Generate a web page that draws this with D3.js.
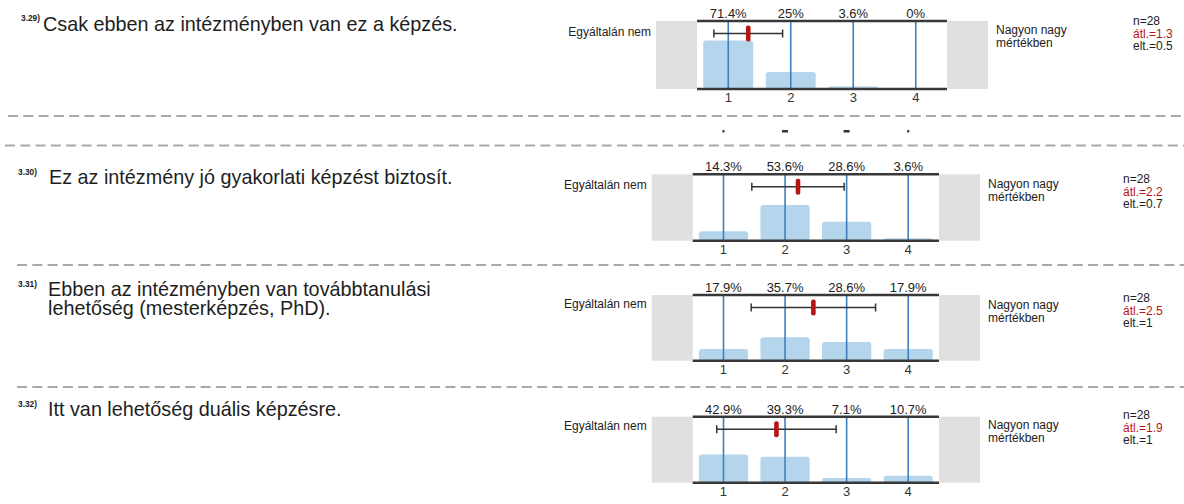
<!DOCTYPE html>
<html>
<head>
<meta charset="utf-8">
<script src="https://cdn.jsdelivr.net/npm/d3@7"></script>
<style>
  body { margin: 0; background: #fff; }
  svg { display: block; font-family: "Liberation Sans", Arial, sans-serif; }
</style>
</head>
<body>
<div id="chart"></div>
<script>
var width = 1184;
var height = 504;

// data
var itemCodes = ["3.29)", "3.30)", "3.31)", "3.32)"];
var itemTitles = [
    ["Csak ebben az intézményben van ez a képzés."],
    ["Ez az intézmény jó gyakorlati képzést biztosít."],
    ["Ebben az intézményben van továbbtanulási", "lehetőség (mesterképzés, PhD)."],
    ["Itt van lehetőség duális képzésre."]
];
var categories = ["1", "2", "3", "4"];
var percents = [
    [71.4, 25, 3.6, 0],
    [14.3, 53.6, 28.6, 3.6],
    [17.9, 35.7, 28.6, 17.9],
    [42.9, 39.3, 7.1, 10.7]
];
var means = [1.32, 2.21, 2.46, 1.86];
var sds = [0.55, 0.75, 1.01, 0.97];
var nLabels = ["28", "28", "28", "28"];
var meanLabels = ["1.3", "2.2", "2.5", "1.9"];
var sdLabels = ["0.5", "0.7", "1", "1"];
var leftLabel = "Egyáltalán nem";
var rightLabel = ["Nagyon nagy", "mértékben"];

// layout of each block (scanned page, blocks are not perfectly aligned)
var blocks = [
    {top: 21, bottom: 89, left: 697, right: 947, titleY: 30.5, numX: 21, textX: 43, leftY: 36, rightY: 34, statY: 25, statX: 1133},
    {top: 174.3, bottom: 240.7, left: 692.7, right: 939, titleY: 184, numX: 18, textX: 49, leftY: 189, rightY: 188, statY: 183, statX: 1123},
    {top: 295, bottom: 360.7, left: 692.7, right: 939, titleY: 296, numX: 18, textX: 48, leftY: 308, rightY: 309, statY: 302, statX: 1123},
    {top: 416.7, bottom: 482.7, left: 692.7, right: 939, titleY: 416, numX: 18, textX: 48, leftY: 430, rightY: 429, statY: 419, statX: 1123}
];
var separators = [{y: 116, x0: 8}, {y: 145.5, x0: 5}, {y: 265, x0: 17}, {y: 387, x0: 17}];

var grayW = 41;
var barColor = "#b5d5ec";
var lineColor = "#3f7fc0";
var axisColor = "#383838";
var meanColor = "#b51515";

var svg = d3.select("#chart").append("svg")
    .attr("width", width)
    .attr("height", height);

/* dashed separators */
svg.selectAll(".sep")
    .data(separators).enter()
    .append("line")
    .attr("class", "sep")
    .attr("x1", d => d.x0)
    .attr("x2", width)
    .attr("y1", d => d.y)
    .attr("y2", d => d.y)
    .attr("stroke", "#a9a9a9")
    .attr("stroke-width", 2)
    .attr("stroke-dasharray", "10,5.3");

/* remnants of a cut-off block between the first two separators */
var xFrag = d3.scaleBand().domain(categories).range([blocks[1].left, blocks[1].right]);
var fragW = [2, 6, 6, 2];
svg.selectAll(".frag")
    .data(categories).enter()
    .append("rect")
    .attr("x", (d, i) => xFrag(d) + xFrag.bandwidth() / 2 - fragW[i] / 2)
    .attr("y", 130)
    .attr("width", (d, i) => fragW[i])
    .attr("height", 2.5)
    .attr("fill", "#333");

blocks.forEach(function(b, k) {
    var g = svg.append("g");
    var x = d3.scaleBand().domain(categories).range([b.left, b.right]).paddingInner(0.2).paddingOuter(0.1);
    var xc = d3.scaleLinear().domain([1, 4])
        .range([x("1") + x.bandwidth() / 2, x("4") + x.bandwidth() / 2]);
    var y = d3.scaleLinear().domain([0, 100]).range([b.bottom, b.top]);

    /* title */
    g.append("text")
        .attr("x", b.numX)
        .attr("y", b.titleY - 9.5)
        .attr("font-size", 9.5)
        .attr("font-weight", "bold")
        .attr("textLength", 19)
        .attr("lengthAdjust", "spacingAndGlyphs")
        .attr("fill", "#222")
        .text(itemCodes[k]);
    itemTitles[k].forEach(function(line, i) {
        g.append("text")
            .attr("x", b.textX)
            .attr("y", b.titleY + i * 19)
            .attr("font-size", 19.8)
            .attr("fill", "#1e1e1e")
            .text(line);
    });

    /* gray end boxes */
    g.append("rect")
        .attr("x", b.left - grayW).attr("y", b.top)
        .attr("width", grayW).attr("height", b.bottom - b.top)
        .attr("fill", "#e0e0e0");
    g.append("rect")
        .attr("x", b.right).attr("y", b.top)
        .attr("width", grayW).attr("height", b.bottom - b.top)
        .attr("fill", "#e0e0e0");

    /* bars */
    g.selectAll(".bar")
        .data(percents[k]).enter()
        .append("rect")
        .attr("class", "bar")
        .attr("x", (d, i) => x(categories[i]))
        .attr("y", d => y(d))
        .attr("width", x.bandwidth())
        .attr("height", d => b.bottom - y(d))
        .attr("rx", 3)
        .attr("fill", barColor);

    /* category lines */
    g.selectAll(".cat")
        .data(categories).enter()
        .append("line")
        .attr("x1", d => xc(+d)).attr("x2", d => xc(+d))
        .attr("y1", b.top).attr("y2", b.bottom)
        .attr("stroke", lineColor)
        .attr("stroke-width", 1.6);

    /* top and bottom rules */
    [b.top, b.bottom].forEach(function(yy) {
        g.append("line")
            .attr("x1", b.left).attr("x2", b.right)
            .attr("y1", yy).attr("y2", yy)
            .attr("stroke", axisColor)
            .attr("stroke-width", 2.4);
    });

    /* percent labels */
    g.selectAll(".pct")
        .data(percents[k]).enter()
        .append("text")
        .attr("x", (d, i) => xc(i + 1))
        .attr("y", b.top - 3)
        .attr("text-anchor", "middle")
        .attr("font-size", 13)
        .attr("fill", "#222")
        .text(d => d + "%");

    /* tick labels */
    g.selectAll(".tick")
        .data(categories).enter()
        .append("text")
        .attr("x", d => xc(+d))
        .attr("y", b.bottom + 13)
        .attr("text-anchor", "middle")
        .attr("font-size", 13)
        .attr("fill", "#333")
        .text(d => d);

    /* mean +- sd */
    var ey = b.top + 12.5;
    var lo = xc(means[k] - sds[k]);
    var hi = xc(means[k] + sds[k]);
    g.append("line")
        .attr("x1", lo).attr("x2", hi)
        .attr("y1", ey).attr("y2", ey)
        .attr("stroke", "#333").attr("stroke-width", 1.5);
    [lo, hi].forEach(function(xx) {
        g.append("line")
            .attr("x1", xx).attr("x2", xx)
            .attr("y1", ey - 4).attr("y2", ey + 4)
            .attr("stroke", "#333").attr("stroke-width", 1.5);
    });
    g.append("rect")
        .attr("x", xc(means[k]) - 2.3)
        .attr("y", ey - 8)
        .attr("width", 4.6)
        .attr("height", 16)
        .attr("rx", 2)
        .attr("fill", meanColor);

    /* scale end labels */
    g.append("text")
        .attr("x", b.left - grayW - 5)
        .attr("y", b.leftY)
        .attr("text-anchor", "end")
        .attr("font-size", 12)
        .attr("fill", "#222")
        .text(leftLabel);
    rightLabel.forEach(function(line, i) {
        g.append("text")
            .attr("x", b.right + grayW + 8)
            .attr("y", b.rightY + i * 12.5)
            .attr("font-size", 12)
            .attr("fill", "#222")
            .text(line);
    });

    /* stats */
    var stats = [
        {t: "n=" + nLabels[k], c: "#222"},
        {t: "átl.=" + meanLabels[k], c: meanColor},
        {t: "elt.=" + sdLabels[k], c: "#222"}
    ];
    g.selectAll(".stat")
        .data(stats).enter()
        .append("text")
        .attr("x", b.statX)
        .attr("y", (d, i) => b.statY + i * 12.5)
        .attr("font-size", 12)
        .attr("fill", d => d.c)
        .text(d => d.t);
});
</script>
</body>
</html>
